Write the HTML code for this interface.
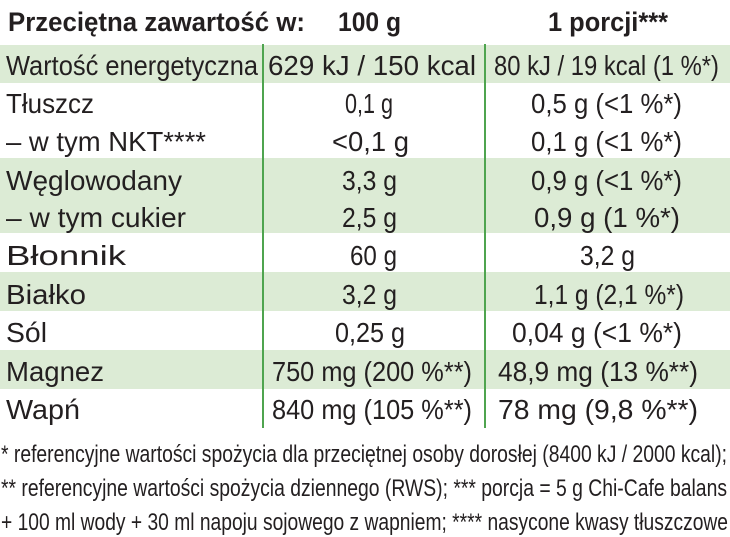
<!DOCTYPE html>
<html><head><meta charset="utf-8"><style>
html,body{margin:0;padding:0;background:#fff;}
svg{display:block;}
text{font-family:"Liberation Sans",sans-serif;fill:#231f20;}
</style></head><body>
<svg width="730" height="537" viewBox="0 0 730 537" xmlns="http://www.w3.org/2000/svg">
<g fill="#dcebd5">
<rect x="0" y="45" width="730" height="38"/>
<rect x="0" y="158" width="730" height="75"/>
<rect x="0" y="272" width="730" height="39"/>
<rect x="0" y="350" width="730" height="39"/>
</g>
<line x1="263" y1="44" x2="263" y2="428" stroke="#4fa44f" stroke-width="2"/>
<line x1="485" y1="44" x2="485" y2="428" stroke="#4fa44f" stroke-width="2"/>
<g font-size="27" font-weight="bold">
<text x="8" y="31" textLength="297" lengthAdjust="spacingAndGlyphs">Przeciętna zawartość w:</text>
<text x="338" y="31" textLength="63" lengthAdjust="spacingAndGlyphs">100 g</text>
<text x="548" y="31" textLength="120" lengthAdjust="spacingAndGlyphs">1 porcji***</text>
</g>
<g font-size="28">
<text x="6" y="75" textLength="252" lengthAdjust="spacingAndGlyphs">Wartość energetyczna</text>
<text x="268" y="75" textLength="208" lengthAdjust="spacingAndGlyphs">629 kJ / 150 kcal</text>
<text x="494" y="75" textLength="225" lengthAdjust="spacingAndGlyphs">80 kJ / 19 kcal (1 %*)</text>

<text x="6" y="113" textLength="88" lengthAdjust="spacingAndGlyphs">Tłuszcz</text>
<text x="345" y="113" textLength="48" lengthAdjust="spacingAndGlyphs">0,1 g</text>
<text x="531" y="113" textLength="151" lengthAdjust="spacingAndGlyphs">0,5 g (&lt;1 %*)</text>

<text x="6" y="151" textLength="200" lengthAdjust="spacingAndGlyphs">– w tym NKT****</text>
<text x="332" y="151" textLength="77" lengthAdjust="spacingAndGlyphs">&lt;0,1 g</text>
<text x="531" y="151" textLength="151" lengthAdjust="spacingAndGlyphs">0,1 g (&lt;1 %*)</text>

<text x="6" y="190" textLength="176" lengthAdjust="spacingAndGlyphs">Węglowodany</text>
<text x="342" y="190" textLength="55" lengthAdjust="spacingAndGlyphs">3,3 g</text>
<text x="531" y="190" textLength="151" lengthAdjust="spacingAndGlyphs">0,9 g (&lt;1 %*)</text>

<text x="6" y="227" textLength="180" lengthAdjust="spacingAndGlyphs">– w tym cukier</text>
<text x="342" y="227" textLength="55" lengthAdjust="spacingAndGlyphs">2,5 g</text>
<text x="534" y="227" textLength="146" lengthAdjust="spacingAndGlyphs">0,9 g (1 %*)</text>

<text x="6" y="265" textLength="120" lengthAdjust="spacingAndGlyphs">Błonnik</text>
<text x="350" y="265" textLength="47" lengthAdjust="spacingAndGlyphs">60 g</text>
<text x="580" y="265" textLength="55" lengthAdjust="spacingAndGlyphs">3,2 g</text>

<text x="6" y="304" textLength="80" lengthAdjust="spacingAndGlyphs">Białko</text>
<text x="342" y="304" textLength="55" lengthAdjust="spacingAndGlyphs">3,2 g</text>
<text x="534" y="304" textLength="150" lengthAdjust="spacingAndGlyphs">1,1 g (2,1 %*)</text>

<text x="6" y="342" textLength="41" lengthAdjust="spacingAndGlyphs">Sól</text>
<text x="335" y="342" textLength="70" lengthAdjust="spacingAndGlyphs">0,25 g</text>
<text x="512" y="342" textLength="170" lengthAdjust="spacingAndGlyphs">0,04 g (&lt;1 %*)</text>

<text x="6" y="381" textLength="98" lengthAdjust="spacingAndGlyphs">Magnez</text>
<text x="272" y="381" textLength="200" lengthAdjust="spacingAndGlyphs">750 mg (200 %**)</text>
<text x="498" y="381" textLength="200" lengthAdjust="spacingAndGlyphs">48,9 mg (13 %**)</text>

<text x="6" y="419" textLength="74" lengthAdjust="spacingAndGlyphs">Wapń</text>
<text x="272" y="419" textLength="200" lengthAdjust="spacingAndGlyphs">840 mg (105 %**)</text>
<text x="498" y="419" textLength="200" lengthAdjust="spacingAndGlyphs">78 mg (9,8 %**)</text>
</g>
<g font-size="24">
<text x="1" y="462" textLength="726" lengthAdjust="spacingAndGlyphs">* referencyjne wartości spożycia dla przeciętnej osoby dorosłej (8400 kJ / 2000 kcal);</text>
<text x="1" y="496" textLength="726" lengthAdjust="spacingAndGlyphs">** referencyjne wartości spożycia dziennego (RWS); *** porcja = 5 g Chi-Cafe balans</text>
<text x="1" y="530" textLength="727" lengthAdjust="spacingAndGlyphs">+ 100 ml wody + 30 ml napoju sojowego z wapniem; **** nasycone kwasy tłuszczowe</text>
</g>
</svg>
</body></html>
